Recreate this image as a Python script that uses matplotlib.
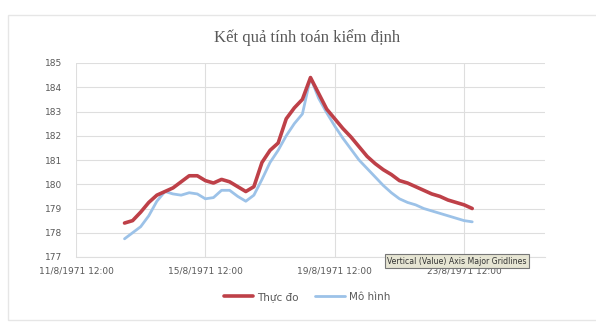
import matplotlib
matplotlib.use("Agg")
import matplotlib.pyplot as plt
import matplotlib.dates as mdates
from matplotlib.patches import Rectangle
from matplotlib.ticker import FuncFormatter
import pandas as pd

# ── Water level series, 6-hourly from 13/8/1971 00:00 ──
times = pd.date_range("1971-08-13 00:00", periods=44, freq="6h")

thuc_do = [
    178.40, 178.50, 178.85, 179.25, 179.55, 179.70, 179.85, 180.10,
    180.35, 180.35, 180.15, 180.05, 180.20, 180.10, 179.90, 179.70,
    179.90, 180.90, 181.40, 181.70, 182.70, 183.15, 183.50, 184.40,
    183.75, 183.10, 182.70, 182.30, 181.95, 181.55, 181.15, 180.85,
    180.60, 180.40, 180.15, 180.05, 179.90, 179.75, 179.60, 179.50,
    179.35, 179.25, 179.15, 179.00,
]
mo_hinh = [
    177.75, 178.00, 178.25, 178.70, 179.30, 179.70, 179.60, 179.55,
    179.65, 179.60, 179.40, 179.45, 179.75, 179.75, 179.50, 179.30,
    179.55, 180.20, 180.90, 181.40, 182.00, 182.50, 182.90, 184.40,
    183.55, 182.95, 182.40, 181.90, 181.45, 181.00, 180.65, 180.30,
    179.95, 179.65, 179.40, 179.25, 179.15, 179.00, 178.90, 178.80,
    178.70, 178.60, 178.50, 178.45,
]

x_ticks = pd.to_datetime(["1971-08-11 12:00", "1971-08-15 12:00",
                          "1971-08-19 12:00", "1971-08-23 12:00"])
x_min, x_max = pd.Timestamp("1971-08-11 12:00"), pd.Timestamp("1971-08-26 00:00")
y_ticks = list(range(177, 186))

RED = "#be4048"
BLUE = "#9cc2e8"
GRID = "#dedede"
TEXT = "#595959"

fig = plt.figure(figsize=(5.96, 3.27), dpi=100)
fig.patch.set_facecolor("white")

# chart frame
fig.patches.append(Rectangle((8 / 596, 1 - 320 / 327), 1.0, 305 / 327,
                             transform=fig.transFigure, fill=False,
                             edgecolor="#e6e6e6", linewidth=1.0))

ax = fig.add_axes([76 / 596, 1 - 257 / 327, 469 / 596, 194 / 327])
ax.plot(times, thuc_do, color=RED, linewidth=2.6, label="Thực đo",
        solid_capstyle="round", solid_joinstyle="round", zorder=3)
ax.plot(times, mo_hinh, color=BLUE, linewidth=2.0, label="Mô hình",
        solid_capstyle="round", solid_joinstyle="round", zorder=2)

ax.set_xlim(x_min, x_max)
ax.set_ylim(177, 185)
ax.set_yticks(y_ticks)
ax.set_xticks(x_ticks)
ax.xaxis.set_major_formatter(FuncFormatter(
    lambda v, _: (lambda d: f"{d.day}/{d.month}/{d.year} {d:%H:%M}")(mdates.num2date(v))))

ax.grid(True, color=GRID, linewidth=0.8)
ax.set_axisbelow(True)
for s in ["top", "right", "left"]:
    ax.spines[s].set_visible(False)
ax.spines["bottom"].set_color(GRID)
ax.tick_params(length=0, labelsize=6.5, colors=TEXT)
ax.tick_params(axis="y", pad=16)
ax.tick_params(axis="x", pad=7)
for lbl in ax.get_yticklabels():
    lbl.set_horizontalalignment("center")

fig.text(0.515, 1 - 38 / 327, "Kết quả tính toán kiểm định", ha="center", va="center",
         family="Liberation Serif", fontsize=12, color=TEXT)

leg = fig.legend(loc="center", bbox_to_anchor=(0.515, 1 - 297 / 327), ncol=2,
                 frameon=False, fontsize=7.5, handlelength=2.8, columnspacing=1.6,
                 handletextpad=0.4)
for t in leg.get_texts():
    t.set_color(TEXT)

# hover tip over the value gridlines
fig.text(457 / 596, 1 - 261 / 327, "Vertical (Value) Axis Major Gridlines",
         ha="center", va="center", fontsize=5.6, color="#333333",
         bbox=dict(boxstyle="square,pad=0.3", facecolor="#e6e5d3",
                   edgecolor="#777777", linewidth=0.8))

fig.savefig("out.png", dpi=100, facecolor="white")
